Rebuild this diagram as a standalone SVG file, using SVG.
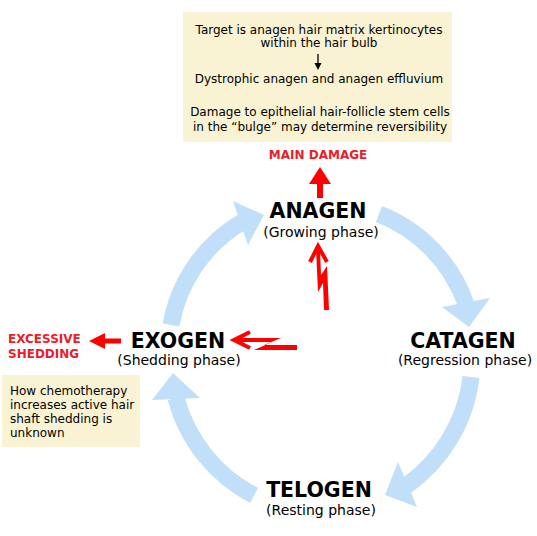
<svg xmlns="http://www.w3.org/2000/svg" width="537" height="536" viewBox="0 0 537 536">
<style>
.note{fill:#f9f3d3}
.t{font-family:"DejaVu Sans","Verdana",sans-serif;fill:#000}
.s12{font-size:12px}
.ph{font-size:20.5px;font-weight:bold}
.sub{font-size:14px}
.red{font-family:"DejaVu Sans","Verdana",sans-serif;font-size:12px;font-weight:bold;fill:#e8202a}
.cyc{fill:none;stroke:#c1dff8;stroke-width:17;stroke-linecap:butt}
.cych{fill:#c1dff8}
.chev{fill:none;stroke:#ff0000;stroke-width:4;stroke-linejoin:miter;stroke-linecap:butt}
.rarrow{fill:#ff0000}
</style>
<rect width="537" height="536" fill="#fff"/>

<g id="note-top">
<rect class="note" x="183" y="12" width="269" height="130"/>
<text class="t s12" x="319" y="34" text-anchor="middle">Target is anagen hair matrix kertinocytes</text>
<text class="t s12" x="319" y="47" text-anchor="middle">within the hair bulb</text>
<line x1="318" y1="54" x2="318" y2="64" stroke="#000" stroke-width="1.3"/>
<polygon points="314.5,63 321.5,63 318,70" fill="#000"/>
<text class="t s12" x="319" y="83" text-anchor="middle">Dystrophic anagen and anagen effluvium</text>
<text class="t s12" x="320" y="116" text-anchor="middle">Damage to epithelial hair-follicle stem cells</text>
<text class="t s12" x="320" y="131" text-anchor="middle">in the “bulge” may determine reversibility</text>
</g>

<g id="main-damage">
<text class="red" x="318" y="159" text-anchor="middle">MAIN DAMAGE</text>
<polygon class="rarrow" points="320,167 331,184 323,184 323,198 317,198 317,184 309,184"/>
</g>

<g id="anagen">
<text class="t ph" x="318" y="217.5" text-anchor="middle">ANAGEN</text>
<text class="t sub" x="321" y="236.5" text-anchor="middle">(Growing phase)</text>
</g>

<g id="catagen">
<text class="t ph" x="463" y="347.5" text-anchor="middle">CATAGEN</text>
<text class="t sub" x="465" y="364.5" text-anchor="middle">(Regression phase)</text>
</g>

<g id="telogen">
<text class="t ph" x="319" y="497" text-anchor="middle">TELOGEN</text>
<text class="t sub" x="321" y="514.5" text-anchor="middle">(Resting phase)</text>
</g>

<g id="exogen">
<text class="t ph" x="178" y="347.5" text-anchor="middle">EXOGEN</text>
<text class="t sub" x="179" y="365" text-anchor="middle">(Shedding phase)</text>
</g>

<g id="excessive-shedding">
<text class="red" x="8" y="343">EXCESSIVE</text>
<text class="red" x="8" y="358">SHEDDING</text>
<polygon class="rarrow" points="89,341 105,333 105,338.5 121,338.5 121,343.5 105,343.5 105,349"/>
</g>

<g id="note-left">
<rect class="note" x="2" y="375" width="138" height="72"/>
<text class="t s12" x="10" y="395">How chemotherapy</text>
<text class="t s12" x="10" y="409">increases active hair</text>
<text class="t s12" x="10" y="423">shaft shedding is</text>
<text class="t s12" x="10" y="437">unknown</text>
</g>

<g id="connectors">
<path class="cyc" d="M171,325 A150,150 0 0 1 242,222"/>
<polygon class="cych" points="233,201 264,215 248,245"/>
<path class="cyc" d="M379,214 A150,150 0 0 1 466,304"/>
<polygon class="cych" points="442,307 469,327 490,298"/>
<path class="cyc" d="M471,377 A155,155 0 0 1 406,486"/>
<polygon class="cych" points="398,462 385,495 417,507"/>
<path class="cyc" d="M254,495.5 A155,155 0 0 1 176,398"/>
<polygon class="cych" points="152,400 173,373 200,398"/>

<polyline class="chev" points="310,262 318,246 327,262"/>
<polygon class="rarrow" points="316,249 320,249 321,275 327,266 329,310 324,310 323,283 318,292"/>
<polyline class="chev" points="250,332 234,340 250,348"/>
<polygon class="rarrow" points="236,338 281,338 264,345 297,345 297,350 254,350 272,342 236,342"/>
</g>
</svg>
